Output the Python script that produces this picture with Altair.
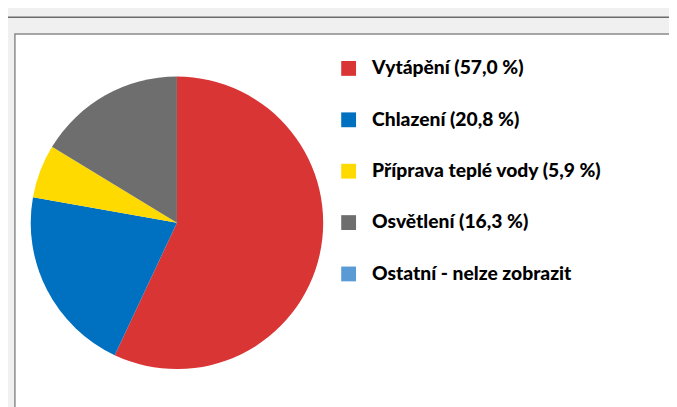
import altair as alt
import pandas as pd

categories = ["Vytápění", "Chlazení", "Příprava teplé vody", "Osvětlení", "Ostatní - nelze zobrazit"]
values = [57.0, 20.8, 5.9, 16.3, 0.0]
labels = ["Vytápění (57,0 %)", "Chlazení (20,8 %)", "Příprava teplé vody (5,9 %)",
          "Osvětlení (16,3 %)", "Ostatní - nelze zobrazit"]
colors = ["#DA3535", "#0070C0", "#FFDA00", "#6E6E6E", "#5B9BD5"]

df = pd.DataFrame({"kategorie": labels, "hodnota": values, "poradi": list(range(len(labels)))})

W, H = 669, 399

panel = alt.Chart(pd.DataFrame({"a": [0]})).mark_rect(
    fill="white", stroke="#8a8a8a", strokeWidth=1.5
).encode(x=alt.value(7), x2=alt.value(W + 20), y=alt.value(24), y2=alt.value(H + 20))

topline = alt.Chart(pd.DataFrame({"a": [0]})).mark_rule(
    color="#6a6a6a", strokeWidth=1.5
).encode(x=alt.value(0), x2=alt.value(W), y=alt.value(7))

pie = alt.Chart(df).mark_arc(radius=148, stroke=None).encode(
    theta=alt.Theta("hodnota:Q", stack=True),
    order=alt.Order("poradi:Q"),
    color=alt.Color(
        "kategorie:N",
        scale=alt.Scale(domain=labels, range=colors),
        sort=labels,
        legend=alt.Legend(
            title=None,
            orient="none",
            legendX=335,
            legendY=49,
            symbolType="square",
            symbolSize=225,
            symbolStrokeWidth=0,
            symbolOpacity=1,
            labelFont="Lato",
            labelFontWeight=900,
            labelFontSize=19.5,
            labelColor="#000000",
            labelOffset=14,
            rowPadding=31,
            labelLimit=400,
        ),
    ),
    x=alt.value(171),
    y=alt.value(215),
)

chart = alt.layer(panel, topline, pie).properties(
    width=W, height=H,
    background="#f0f0f0",
    padding=0,
    autosize=alt.AutoSizeParams(type="none"),
).configure_view(stroke=None)

chart.save("out.html", embed_options={"renderer": "svg", "actions": False})
